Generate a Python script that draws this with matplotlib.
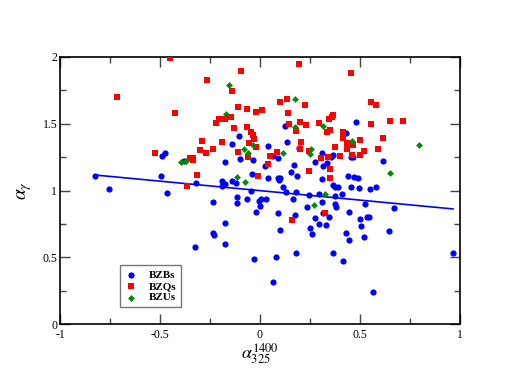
import matplotlib
matplotlib.use('Agg')
import matplotlib.pyplot as plt
from matplotlib.ticker import MultipleLocator

# BZBs (blue circles)
bzb_x = [-0.825, -0.753, -0.495, -0.475, -0.488, -0.38, -0.318, -0.467, -0.325,
         0.125, -0.107, 0.137, -0.138, 0.042, 0.195, -0.1, -0.033, 0.063, 0.09,
         0.025, -0.175, 0.308, 0.367, 0.355, 0.275, 0.17, 0.335, 0.313, 0.155,
         -0.038, 0.042, 0.09, 0.102, 0.095, 0.187, -0.192, -0.175, -0.192, -0.138,
         -0.122, 0.308, 0.367, 0.375, 0.113, 0.388,
         0.478, 0.428, 0.453, 0.463, 0.613, 0.438, 0.47, 0.488, 0.453, 0.495,
         0.552, 0.58,
         0.412, 0.525, 0.67, 0.447, 0.498, 0.533, 0.545, 0.505, 0.643, 0.432,
         0.445, 0.52, 0.413, 0.965, 0.563,
         -0.045, 0.13, 0.182, 0.247, 0.295, 0.373, -0.117, -0.117, -0.067, 0.003,
         0.028, -0.003, 0.0, 0.163, -0.233, 0.235, 0.312, 0.373, 0.382, -0.02,
         0.092, 0.175, 0.313, 0.345, 0.277, -0.177, 0.293, 0.33, 0.252, 0.1,
         -0.235, -0.23, 0.262, -0.173, 0.178, 0.365, -0.028, 0.08, 0.067]
bzb_y = [1.11, 1.013, 1.11, 1.28, 1.26, 1.22, 1.054, 0.979, 0.579,
         1.485, 1.41, 1.366, 1.346, 1.333, 1.316, 1.233, 1.225, 1.261, 1.241,
         1.183, 1.216, 1.278, 1.266, 1.253, 1.211, 1.188, 1.208, 1.181, 1.139,
         1.126, 1.094, 1.094, 1.096, 1.079, 1.109, 1.074, 1.049, 1.036, 1.074,
         1.054, 1.083, 1.041, 1.029, 1.023, 1.023,
         1.516, 1.433, 1.248, 1.253, 1.224, 1.109, 1.099, 1.096, 1.026, 1.021,
         1.008, 1.026,
         0.971, 0.901, 0.869, 0.836, 0.784, 0.799, 0.801, 0.736, 0.697, 0.682,
         0.629, 0.654, 0.474, 0.532, 0.24,
         0.999, 0.992, 0.986, 0.966, 0.971, 0.959, 0.949, 0.903, 0.936, 0.936,
         0.936, 0.924, 0.884, 0.936, 0.911, 0.874, 0.916, 0.899, 0.874, 0.836,
         0.831, 0.814, 0.831, 0.799, 0.791, 0.757, 0.746, 0.739, 0.722, 0.707,
         0.684, 0.664, 0.677, 0.602, 0.532, 0.532, 0.487, 0.499, 0.312]

# BZQs (red squares)
bzq_x = [-0.45, -0.267, -0.717, -0.425, -0.29, -0.30, -0.27, -0.523, -0.35,
         -0.333, -0.335, -0.313, -0.367,
         0.197, -0.093, -0.138, 0.133, 0.102, 0.225, -0.112, -0.067, -0.022,
         0.01, 0.14, -0.147, -0.203, -0.175, -0.222, 0.367, 0.358, 0.347, 0.2,
         0.147, 0.23, 0.295, 0.18, -0.128, -0.067, -0.045, 0.337, 0.35, -0.037,
         -0.192, -0.028, 0.207, -0.053, -0.02, 0.2, 0.247, 0.375, -0.237, -0.112,
         -0.058, 0.05, 0.083, 0.042, 0.303, 0.342, 0.35, 0.247, -0.01, 0.35,
         0.453, 0.553, 0.582, 0.648, 0.713, 0.555, 0.417, 0.413, 0.5, 0.433,
         0.467, 0.615, 0.433, 0.52, 0.59, 0.4, 0.46, 0.498,
         0.327, 0.162]
bzq_y = [1.99, 1.83, 1.70, 1.58, 1.37, 1.30, 1.28, 1.28, 1.24,
         1.24, 1.23, 1.116, 1.036,
         1.948, 1.895, 1.743, 1.683, 1.663, 1.64, 1.628, 1.61, 1.59,
         1.603, 1.578, 1.553, 1.538, 1.538, 1.503, 1.566, 1.553, 1.533, 1.513,
         1.496, 1.488, 1.503, 1.448, 1.47, 1.473, 1.44, 1.44, 1.453, 1.416,
         1.361, 1.383, 1.366, 1.353, 1.329, 1.308, 1.293, 1.329, 1.308, 1.286,
         1.248, 1.261, 1.288, 1.201, 1.241, 1.248, 1.164, 1.146, 1.109, 1.094,
         1.878, 1.663, 1.638, 1.523, 1.523, 1.5, 1.44, 1.396, 1.378, 1.353,
         1.341, 1.391, 1.308, 1.296, 1.311, 1.258, 1.266, 1.266,
         0.831, 0.781]

# BZUs (green diamonds)
bzu_x = [-0.397, -0.372, -0.153, 0.177, -0.168, 0.175, 0.315, -0.078, -0.033,
         0.257, 0.252, -0.062, 0.115, -0.113, -0.077, 0.462, 0.795, 0.652,
         0.327, 0.27]
bzu_y = [1.21, 1.22, 1.79, 1.683, 1.57, 1.473, 1.48, 1.308, 1.338,
         1.308, 1.273, 1.278, 1.278, 1.104, 1.061, 1.371, 1.344, 1.131,
         0.974, 0.894]

# linear fit shown for BZBs
fit_intercept = 0.999
fit_slope = -0.142

plt.rcParams['font.family'] = 'Liberation Serif'
plt.rcParams['mathtext.fontset'] = 'stix'

fig = plt.figure(figsize=(5.18, 3.82), dpi=100)
ax = fig.add_axes([0.1158, 0.1518, 0.7722, 0.6990])

ax.scatter(bzb_x, bzb_y, s=20, c='#0000ff', marker='o', linewidths=0, label='BZBs', zorder=3)
ax.scatter(bzq_x, bzq_y, s=20, c='#ff0000', marker='s', linewidths=0, label='BZQs', zorder=3)
ax.scatter(bzu_x, bzu_y, s=12, c='#008b00', marker='D', linewidths=0, label='BZUs', zorder=3)

x0, x1 = min(bzb_x), max(bzb_x)
ax.plot([x0, x1], [fit_intercept + fit_slope * x0, fit_intercept + fit_slope * x1],
        color='#0000ff', lw=1.2, zorder=2)

ax.set_xlim(-1, 1)
ax.set_ylim(0, 2)
ax.xaxis.set_major_locator(MultipleLocator(0.5))
ax.xaxis.set_minor_locator(MultipleLocator(0.25))
ax.yaxis.set_major_locator(MultipleLocator(0.5))
ax.yaxis.set_minor_locator(MultipleLocator(0.25))
ax.xaxis.set_major_formatter(plt.FuncFormatter(lambda v, p: '%g' % v))
ax.yaxis.set_major_formatter(plt.FuncFormatter(lambda v, p: '%g' % v))
ax.tick_params(which='both', direction='in', top=True, right=True, labelsize=8.5,
               color='#444444', width=1)
ax.tick_params(which='major', length=7, pad=2)
ax.tick_params(which='minor', length=4)
ax.tick_params(axis='x', which='major', pad=3.5)
for sp in ax.spines.values():
    sp.set_linewidth(1.2)

ax.set_xlabel(r'$\alpha_{325}^{1400}$', fontsize=13, labelpad=0)
ax.set_ylabel(r'$\alpha_{\gamma}$', fontsize=14, labelpad=6)

leg = ax.legend(loc='lower left', bbox_to_anchor=(0.15, 0.064), frameon=True,
                fancybox=False, edgecolor='#555555', prop={'weight': 'bold', 'size': 8},
                handletextpad=1.0, borderpad=0.4, labelspacing=0.15, handlelength=1.2,
                borderaxespad=0, scatterpoints=1)
leg.get_frame().set_linewidth(1)

fig.savefig('out.png', dpi=100)
